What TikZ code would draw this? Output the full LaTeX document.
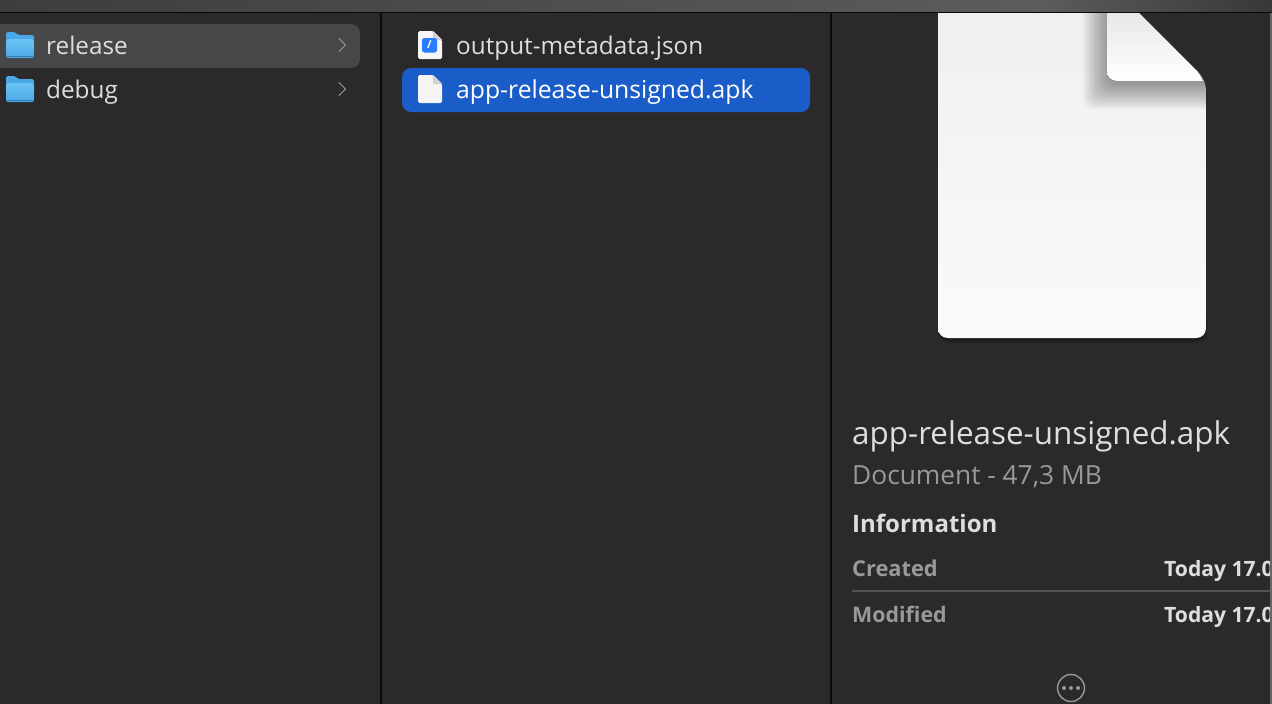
\documentclass[tikz,border=0pt]{standalone}
\usepackage{fontspec}
\setmainfont{Open Sans}
\usetikzlibrary{shadings,fadings,calc}
\definecolor{bgc}{HTML}{2B292A}
\definecolor{rowsel}{HTML}{474747}
\definecolor{bluesel}{HTML}{1A5CC8}
\definecolor{txt}{HTML}{DFDEDE}
\definecolor{sub}{HTML}{9A9999}
\definecolor{sepc}{HTML}{0A0A0A}
\definecolor{folderl}{HTML}{6CC4F5}
\definecolor{folderd}{HTML}{4AA8E6}
\tikzset{
 x=1pt,y=-1pt,
 lbl/.style={anchor=base west,inner sep=0pt,text=txt,font=\fontsize{24.3}{28}\selectfont},
 sep/.style={draw=sepc,line width=1.6pt},
 chev/.style={draw=sub,line width=1pt,line cap=round,line join=round},
 bold/.style={anchor=base west,inner sep=0pt,font=\fontsize{21.4}{26}\selectfont\bfseries},
}
\newcommand{\foldericon}[2]{%
 \fill[folderd,rounded corners=1.5pt]
   (#1+6,#2+10) -- (#1+6,#2) -- (#1+15,#2) -- (#1+18,#2+3) -- (#1+34,#2+3) -- (#1+34,#2+10) -- cycle;
 \fill[top color=folderl,bottom color=folderd,rounded corners=1.5pt]
   (#1+6,#2+7) rectangle (#1+34,#2+26);
 \fill[folderd!75!black] (#1+6,#2+23.5) rectangle (#1+34,#2+24.2);
}
\newcommand{\fileicon}[2]{%
 \fill[white!96!black,rounded corners=1.5pt] (#1,#2) -- (#1+15,#2) -- (#1+24,#2+9) -- (#1+24,#2+28) -- (#1,#2+28) -- cycle;
 \fill[black!18] (#1+15,#2) -- (#1+15,#2+9) -- (#1+24,#2+9) -- cycle;
}
\begin{document}
\begin{tikzpicture}
\useasboundingbox (0,0) rectangle (1272,704);
\fill[bgc] (0,0) rectangle (1272,704);
% top bar
\fill[left color=black!76,right color=black!64] (0,0) rectangle (1040,12);
\fill[left color=black!64,right color=black!78] (1040,0) rectangle (1272,12);
\draw[sep] (0,12.5) -- (1272,12.5);
% column separators
\draw[sep] (381,13) -- (381,704);
\draw[sep] (831,13) -- (831,704);
% rows
\fill[rowsel,rounded corners=9pt] (-12,24) rectangle (360,68);
\fill[bluesel,rounded corners=9pt] (402,68) rectangle (810,112);
\foldericon{0}{32}
\foldericon{0}{76}
\node[lbl] (release) at (46,54) {release};
\node[lbl] (debug) at (46,98) {debug};
\draw[chev] (339,38.5) -- (345.5,45) -- (339,51.5);
\draw[chev] (339,82.5) -- (345.5,89) -- (339,95.5);
% file icons
\fileicon{418}{31}
\fill[blue!60!cyan!85!white,rounded corners=2.5pt] (422,38) rectangle (437,52.5);
\node[inner sep=0pt,text=white,font=\fontsize{11}{12}\selectfont\bfseries] (jsonmark) at (429.5,45) {/};
\fileicon{418}{75}
\node[lbl] (json) at (456,54) {output-metadata.json};
\node[lbl,text=white,font=\fontsize{24.7}{28}\selectfont] (apk) at (456,98) {app-release-unsigned.apk};
% big document: soft shadow below the page
\foreach \g in {0,1,2,3} \fill[black,opacity=.08,rounded corners=10pt] (938,310) rectangle (1206+\g/2,340+\g);
% page
\begin{scope}
\clip (938,13) -- (1139,13) -- (1198,72) .. controls (1204,78) and (1206,84) .. (1206,92) -- (1206,328) .. controls (1206,334) and (1202,338) .. (1196,338) -- (948,338) .. controls (942,338) and (938,334) .. (938,328) -- cycle;
\fill[top color=white!94!black,bottom color=white!98!black] (938,13) rectangle (1206,338);
% soft shadow of the fold
\foreach \g in {24,22,...,0}
  \fill[black,opacity=.03,rounded corners=10pt] (1107-\g,0) rectangle (1230,85+\g);
\end{scope}
% fold
\fill[shading angle=135,top color=white!91!black,bottom color=white] (1107,13) -- (1139,13) -- (1198,72) .. controls (1200,75) and (1202,78) .. (1203,81) -- (1117,81) .. controls (1111,81) and (1107,77) .. (1107,71) -- cycle;
% details
\node[anchor=base west,inner sep=0pt,text=txt,font=\fontsize{31.4}{36}\selectfont] (title) at (852,444) {app-release-unsigned.apk};
\node[anchor=base west,inner sep=0pt,text=sub,font=\fontsize{26.3}{30}\selectfont] (kind) at (852,484) {Document - 47,3 MB};
\node[bold,text=txt,font=\fontsize{24}{30}\selectfont\bfseries] (info) at (852,532) {Information};
\node[bold,text=sub,font=\fontsize{21.8}{26}\selectfont\bfseries] (created) at (852,576) {Created};
\node[bold,text=sub] (modified) at (852,622) {Modified};
\draw[draw=black!68,line width=1.3pt] (852,591) -- (1272,591);
\begin{scope}
\clip (1100,540) rectangle (1270,640);
\node[bold,text=txt,font=\fontsize{21.1}{26}\selectfont\bfseries] (d1) at (1164,576) {Today 17.0};
\node[bold,text=txt,font=\fontsize{21.1}{26}\selectfont\bfseries] (d2) at (1164,622) {Today 17.0};
\end{scope}
\draw[draw=sub,line width=1.4pt] (1071,688) circle (13.5);
\foreach \px in {1064,1071,1078} \fill[sub] (\px,688) circle (2);
% right edge
\fill[black!60] (1270,13) rectangle (1272,704);
\end{tikzpicture}
\end{document}
